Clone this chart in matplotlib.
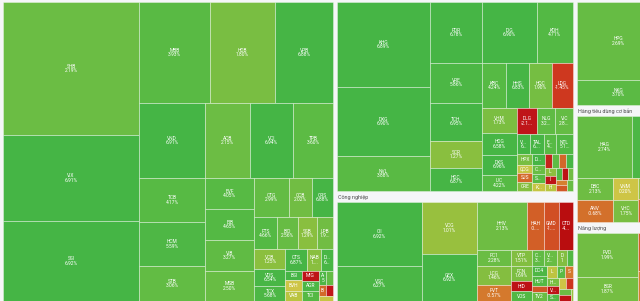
import matplotlib
matplotlib.use("Agg")
import matplotlib.pyplot as plt
from matplotlib.patches import Rectangle
from matplotlib.colors import LinearSegmentedColormap, Normalize

plt.rcParams['font.family'] = ['Roboto', 'DejaVu Sans']

# --- du lieu: ma, gia tri (von hoa tuong doi), % thay doi ---
fin_tickers = ["SHB", "VIX", "SSI", "MBB", "HDB", "VPB", "VND", "ACB", "VCI", "TPB",
               "TCB", "HCM", "STB", "EVF", "EIB", "VIB", "MSB", "CTG", "OCB", "ORS",
               "FTS", "BID", "SSB", "LPB", "VCB", "VDS", "TCX", "CTS", "NAB", "DSE",
               "BSI", "BVH", "VAB", "MIG", "AGR", "TCI", "APS", "ABB", "BVS", "HBS", "AAS"]
fin_size = [18088, 11696, 10880, 7171, 6565, 5858, 4950, 3375, 3225, 3000,
            2904, 2904, 2310, 1519, 1519, 1519, 1470, 1365, 897, 819,
            736, 672, 608, 512, 620, 527, 465, 462, 294, 252,
            160, 170, 170, 170, 170, 170, 110, 95, 85, 75, 68]
fin_change = [2.19, 6.91, 6.92, 3.93, 1.80, 6.88, 6.91, 2.15, 6.94, 3.60,
              4.17, 5.59, 3.06, 4.05, 4.65, 3.27, 2.50, 2.99, 2.02, 6.88,
              4.66, 2.56, 1.29, 1.97, 1.25, 6.54, 5.68, 6.87, 1.26, 6.50,
              6.90, 0.20, 0.45, -2.50, 6.00, 4.50, 5.50, 3.00, -0.80, -2.00, 0.30]

bds_tickers = ["KHG", "DXG", "NVL", "PDR", "DIG", "KDH", "VRE", "TCH", "SCR", "HDC",
               "KBC", "HHS", "HQC", "LDG", "VHM", "HDG", "DXS", "IJC", "DLG", "NLG",
               "VIC", "VPI", "TAL", "EVG", "NTL", "HPX", "QCG", "SJS", "CRE", "DRH",
               "CEO", "SZC", "KOS", "HAR", "SGR", "TDH", "TDC", "LHG", "IDC", "HTN",
               "PTL", "TIG", "FIR", "BCM", "VPH", "API"]
bds_size = [7905, 6417, 3255, 3172, 3294, 2196, 2080, 1976, 1404, 1196,
            1104, 1058, 1012, 966, 900, 756, 720, 576, 513, 486,
            459, 252, 273, 252, 336, 168, 108, 132, 140, 130,
            120, 110, 100, 100, 95, 95, 90, 90, 85, 80,
            75, 70, 65, 60, 70, 63]
bds_change = [6.89, 6.90, 3.88, 6.78, 6.90, 4.71, 5.86, 6.95, 1.27, 6.87,
              4.24, 6.83, 1.90, -1.45, 1.73, 6.58, 6.96, 4.22, -2.14, 3.29,
              2.87, 6.90, 6.80, 4.10, 5.10, 1.80, 0.30, -0.80, 1.40, 6.80,
              2.50, 4.00, 0.30, -1.80, 3.50, -0.80, 6.50, 1.20, -2.50, 0.50,
              5.00, -3.00, 2.00, -0.50, -1.00, 2.50]

cn_tickers = ["CII", "VSC", "VCG", "GEX", "HHV", "HAH", "GMD", "CTD", "PC1", "LCG",
              "PVT", "VTP", "FCN", "HID", "VOS", "CTR", "VGC", "DPG", "SCG", "DC4",
              "HUT", "SCS", "TV2", "LLM", "PHP", "SGP", "HAX", "VTO", "SKG", "DVP",
              "CDN", "TCL", "MVN", "TMS"]
cn_size = [5440, 2975, 2860, 2585, 2400, 816, 720, 672, 544, 646,
           544, 336, 315, 210, 210, 192, 192, 160, 96, 160,
           150, 95, 130, 120, 110, 100, 95, 90, 85, 80,
           75, 70, 65, 26]
cn_change = [6.92, 6.27, 1.01, 6.92, 2.13, -0.90, -1.10, -4.00, 2.28, 1.46,
             -0.57, 1.51, 1.69, -3.00, 5.00, 3.10, 2.50, 1.50, 5.00, 5.60,
             4.80, -1.00, 2.50, 0.40, 3.80, -0.60, 1.80, -2.60, 5.00, 0.20,
             -1.50, 2.20, -3.00, 1.00]

nvl_tickers = ["HPG", "NKG"]
nvl_size = [6474, 2075]
nvl_change = [2.69, 3.70]

tdcb_tickers = ["HAG", "MSN", "DBC", "ANV", "VNM", "VHC", "SBT", "KDC", "QNS"]
tdcb_size = [3416, 1708, 828, 792, 575, 550, 450, 300, 179]
tdcb_change = [2.74, 5.90, 2.13, -0.68, 0.20, 1.75, 1.00, -0.90, 2.50]

nl_tickers = ["PVD", "BSR", "PVS", "PLX"]
nl_size = [2728, 1488, 800, 628]
nl_change = [1.99, 1.87, -0.90, -0.50]

sector_names = ["Tài chính", "Bất động sản", "Công nghiệp",
                "Nguyên vật liệu", "Hàng tiêu dùng cơ bản", "Năng lượng"]
sector_size = [103540, 48000, 26400, 9804, 10062, 6794]
sector_columns = [[0], [1, 2], [3, 4, 5]]

sectors = [
    (fin_tickers, fin_size, fin_change),
    (bds_tickers, bds_size, bds_change),
    (cn_tickers, cn_size, cn_change),
    (nvl_tickers, nvl_size, nvl_change),
    (tdcb_tickers, tdcb_size, tdcb_change),
    (nl_tickers, nl_size, nl_change),
]

PHI = (1 + 5 ** 0.5) / 2


def squarify(values, x0, y0, x1, y1):
    """Bo tri treemap kieu squarify (ty le vang, giong d3)."""
    rects = []
    total = float(sum(values))
    n = len(values)
    i0 = 0
    while i0 < n:
        dx, dy = x1 - x0, y1 - y0
        i1 = i0 + 1
        s = values[i0]
        vmin = vmax = s
        alpha = max(dy / dx, dx / dy) / (total * PHI)
        beta = s * s * alpha
        best = max(vmax / beta, beta / vmin)
        while i1 < n:
            v = values[i1]
            mn, mx = min(vmin, v), max(vmax, v)
            beta = (s + v) ** 2 * alpha
            r = max(mx / beta, beta / mn)
            if r > best:
                break
            s, vmin, vmax, best = s + v, mn, mx, r
            i1 += 1
        row = values[i0:i1]
        if dx < dy:
            h = dy * s / total
            xx = x0
            for v in row:
                w = dx * v / s
                rects.append((xx, y0, w, h))
                xx += w
            y0 += h
        else:
            w = dx * s / total
            yy = y0
            for v in row:
                hh = dy * v / s
                rects.append((x0, yy, w, hh))
                yy += hh
            x0 += w
        total -= s
        i0 = i1
    return rects


cmap = LinearSegmentedColormap.from_list("thitruong", [
    (0.0, "#b00000"), (5.0 / 14, "#c0161a"), (5.6 / 14, "#cf3b20"),
    (6.4 / 14, "#d4762c"), (7.0 / 14, "#dcc64a"), (7.5 / 14, "#b8c43f"),
    (8.2 / 14, "#8cbf3e"), (9.2 / 14, "#6bbd44"), (11.0 / 14, "#58ba44"),
    (1.0, "#45b545")])
norm = Normalize(-7, 7)

CHAR_W = {'.': 1.3, ',': 1.3, '%': 4.2, '-': 1.7}
VIS_W = 640


def text_w(t):
    return sum(CHAR_W.get(c, 2.8) for c in t)


def fit(t, avail):
    if text_w(t) <= avail:
        return t
    while len(t) > 1 and text_w(t + "...") > avail:
        t = t[:-1]
    return t + "..." if text_w(t + "...") <= avail else t


def label(x, y, t, avail):
    t = fit(t, avail)
    # bo qua nhan bi cat o mep phai anh
    if x + text_w(t) / 2 > VIS_W - 1:
        return
    ax.text(x, y, t, fontsize=3.5, color="white", ha="center", va="center")


fig = plt.figure(figsize=(6.4, 3.01), dpi=100)
fig.patch.set_facecolor("#f5f6f8")
ax = fig.add_axes([0, 0, 1, 1])
ax.set_xlim(0, 640)
ax.set_ylim(301, 0)
ax.axis("off")

# khung tong: cac cot nganh
X0, Y0, X1, Y1 = 1, -8, 661, 302
total_all = sum(sector_size)
cx = X0
for col in sector_columns:
    col_sum = sum(sector_size[k] for k in col)
    cw = (X1 - X0) * col_sum / total_all
    cy = Y0
    for k in col:
        ch = (Y1 - Y0) * sector_size[k] / col_sum
        ix0, iy0, ix1, iy1 = cx + 2, cy + 10, cx + cw - 2, cy + ch - 1
        if cy + 5.3 > 3:  # tieu de nganh nam trong vung anh
            ax.text(ix0 + 1, cy + 5.3, sector_names[k], fontsize=3.9, color="#4d4d4d",
                    ha="left", va="center")
        tickers, sizes, changes = sectors[k]
        for (rx, ry, rw, rh), tk, pc in zip(squarify(sizes, ix0, iy0, ix1, iy1),
                                            tickers, changes):
            ax.add_patch(Rectangle((rx, ry), rw, rh, facecolor=cmap(norm(pc)),
                                   edgecolor=(1, 1, 1, 0.55), linewidth=0.45))
            avail = rw - 5
            if avail < 2.5 or rh < 7:
                continue
            ccx, ccy = rx + rw / 2, ry + rh / 2
            if rh >= 13:
                label(ccx, ccy - 2.2, tk, avail)
                label(ccx, ccy + 2.2, "%.2f%%" % pc, avail)
            else:
                label(ccx, ccy, tk, avail)
        cy += ch
    cx += cw

fig.savefig("out.png", dpi=100, facecolor=fig.get_facecolor())
